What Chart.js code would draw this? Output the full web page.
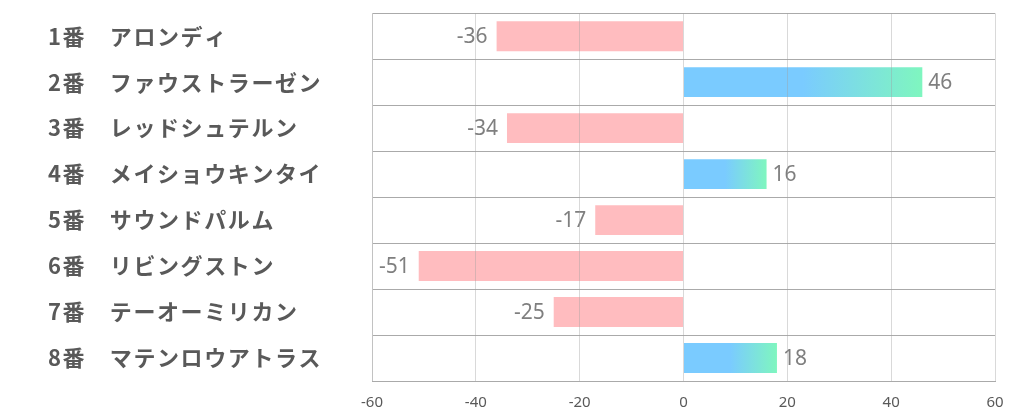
<!DOCTYPE html>
<html>
<head>
<meta charset="utf-8">
<script src="https://cdn.jsdelivr.net/npm/chart.js@4"></script>
<style>
  html, body { margin: 0; padding: 0; background: #ffffff; }
  #wrap { width: 1022px; height: 417px; }
</style>
</head>
<body>
<div id="wrap"><canvas id="chart" width="1022" height="417"></canvas></div>
<script>
// --- dati ---
const horseLabels = [
  "1番　アロンディ",
  "2番　ファウストラーゼン",
  "3番　レッドシュテルン",
  "4番　メイショウキンタイ",
  "5番　サウンドパルム",
  "6番　リビングストン",
  "7番　テーオーミリカン",
  "8番　マテンロウアトラス",
];
const scoreValues = [-36, 46, -34, 16, -17, -51, -25, 18];
const xTickMin = -60;
const xTickMax = 60;
const xTickStep = 20;

// --- colori ---
const COLORS = {
  pink: "#ffbcbf",
  blue: "#7acbff",
  green: "#7ff6bf",
  label: "#595959",
  value: "#7f7f7f",
  hLine: "#aaaaaa",
  vLine: "#d9d9d9",
};

// gradiente per le barre positive (blu -> verde)
function barColor(ctx) {
  const v = ctx.raw;
  if (v < 0) return COLORS.pink;
  const x = ctx.chart.scales.x;
  if (!x) return COLORS.blue;
  const x0 = x.getPixelForValue(0);
  const x1 = x.getPixelForValue(v);
  const g = ctx.chart.ctx.createLinearGradient(x0, 0, x1, 0);
  g.addColorStop(0, COLORS.blue);
  g.addColorStop(0.5, COLORS.blue);
  g.addColorStop(1, COLORS.green);
  return g;
}

// spaziatura lettere solo per le etichette a sinistra
const spacingPlugin = {
  id: "spacing",
  beforeDraw(chart) { chart.ctx.letterSpacing = "1.6px"; },
  beforeDatasetsDraw(chart) { chart.ctx.letterSpacing = "0px"; },
};

// etichette dei valori accanto alle barre
const valueLabels = {
  id: "valueLabels",
  afterDatasetsDraw(chart) {
    const ctx = chart.ctx;
    const meta = chart.getDatasetMeta(0);
    ctx.save();
    ctx.font = "21px 'Noto Sans', sans-serif";
    ctx.fillStyle = COLORS.value;
    ctx.textBaseline = "middle";
    meta.data.forEach((bar, i) => {
      const v = scoreValues[i];
      if (v < 0) {
        ctx.textAlign = "right";
        ctx.fillText(String(v), bar.x - 9, bar.y + 1);
      } else {
        ctx.textAlign = "left";
        ctx.fillText(String(v), bar.x + 6, bar.y + 1);
      }
    });
    ctx.restore();
  },
};

new Chart(document.getElementById("chart"), {
  type: "bar",
  data: {
    labels: horseLabels,
    datasets: [
      {
        data: scoreValues,
        backgroundColor: barColor,
        borderWidth: 0,
        barPercentage: 0.65,
        categoryPercentage: 1,
      },
    ],
  },
  options: {
    indexAxis: "y",
    responsive: false,
    animation: false,
    layout: { padding: { left: 48, right: 27, top: 13, bottom: 0 } },
    plugins: {
      legend: { display: false },
      tooltip: { enabled: false },
    },
    scales: {
      x: {
        min: xTickMin,
        max: xTickMax,
        ticks: {
          z: 1,
          stepSize: xTickStep,
          color: COLORS.label,
          font: { family: "'Noto Sans', sans-serif", size: 15 },
          padding: 13,
        },
        grid: { z: 1, color: "rgba(160,160,160,0.4)", drawTicks: false },
        border: { color: COLORS.hLine, z: 1 },
        afterFit(scale) { scale.height = 36; },
      },
      y: {
        ticks: {
          crossAlign: "far",
          color: COLORS.label,
          font: { family: "'Noto Sans CJK JP', sans-serif", size: 22, weight: "bold" },
          padding: 0,
        },
        grid: { color: COLORS.hLine, drawTicks: false, offset: true },
        border: { color: COLORS.vLine },
        afterFit(scale) { scale.width = 324; },
      },
    },
  },
  plugins: [spacingPlugin, valueLabels],
});
</script>
</body>
</html>
